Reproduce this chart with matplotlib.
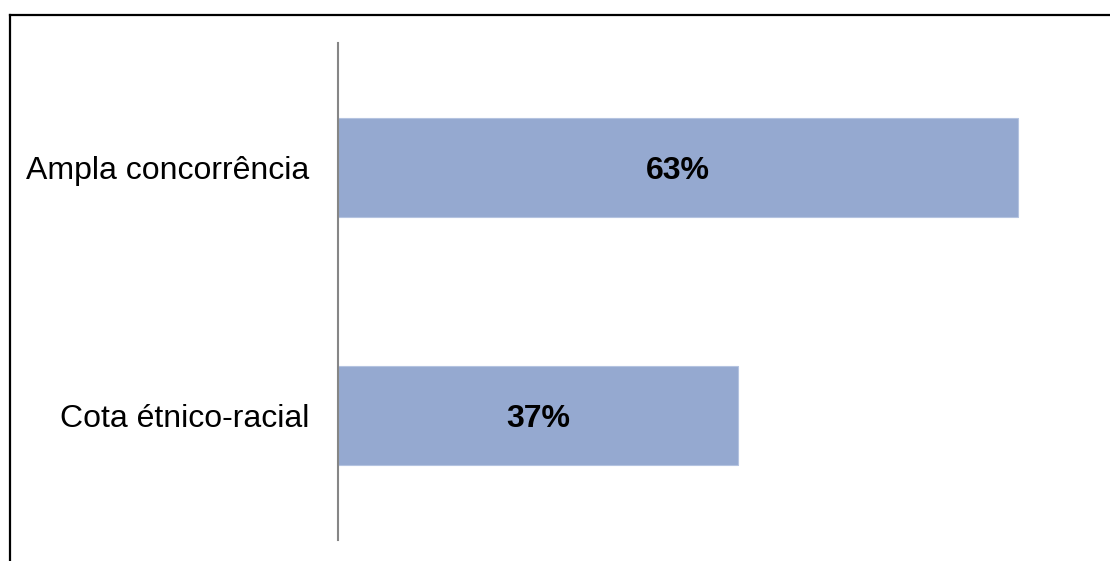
import matplotlib.pyplot as plt
from matplotlib.lines import Line2D

plt.rcParams['font.family'] = ['Liberation Sans', 'DejaVu Sans']

# Dados
categorias = ['Cota étnico-racial', 'Ampla concorrência']
valores = [0.37, 0.63]
rotulos = ['37%', '63%']

fig = plt.figure(figsize=(11.1, 5.61), dpi=100)
ax = fig.add_axes([338 / 1110, 21 / 561, 756 / 1110, 497 / 561])

pos = range(len(categorias))
ax.barh(pos, valores, height=0.4, color='#95a9d0', edgecolor='#b4c3e0', linewidth=0.8)
for p, v, r in zip(pos, valores, rotulos):
    ax.text(v / 2, p, r, ha='center', va='center_baseline', fontsize=23, fontweight='bold', color='black')

ax.set_xlim(0, 0.7)
ax.set_ylim(-0.5, 1.5)
ax.set_yticks(list(pos))
ax.set_yticklabels(categorias, fontsize=23)
ax.tick_params(axis='y', length=0, pad=20.5)
ax.set_xticks([])
for s in ['top', 'right', 'bottom']:
    ax.spines[s].set_visible(False)
ax.spines['left'].set_color('#868686')
ax.spines['left'].set_linewidth(1.5)

# Moldura (linhas superior e esquerda)
fig.add_artist(Line2D([10 / 1110, 1], [1 - 14.5 / 561, 1 - 14.5 / 561], color='black', lw=1.6,
                      transform=fig.transFigure))
fig.add_artist(Line2D([10 / 1110, 10 / 1110], [0, 1 - 14.5 / 561], color='black', lw=1.6,
                      transform=fig.transFigure))

fig.savefig('out.png', dpi=100)
